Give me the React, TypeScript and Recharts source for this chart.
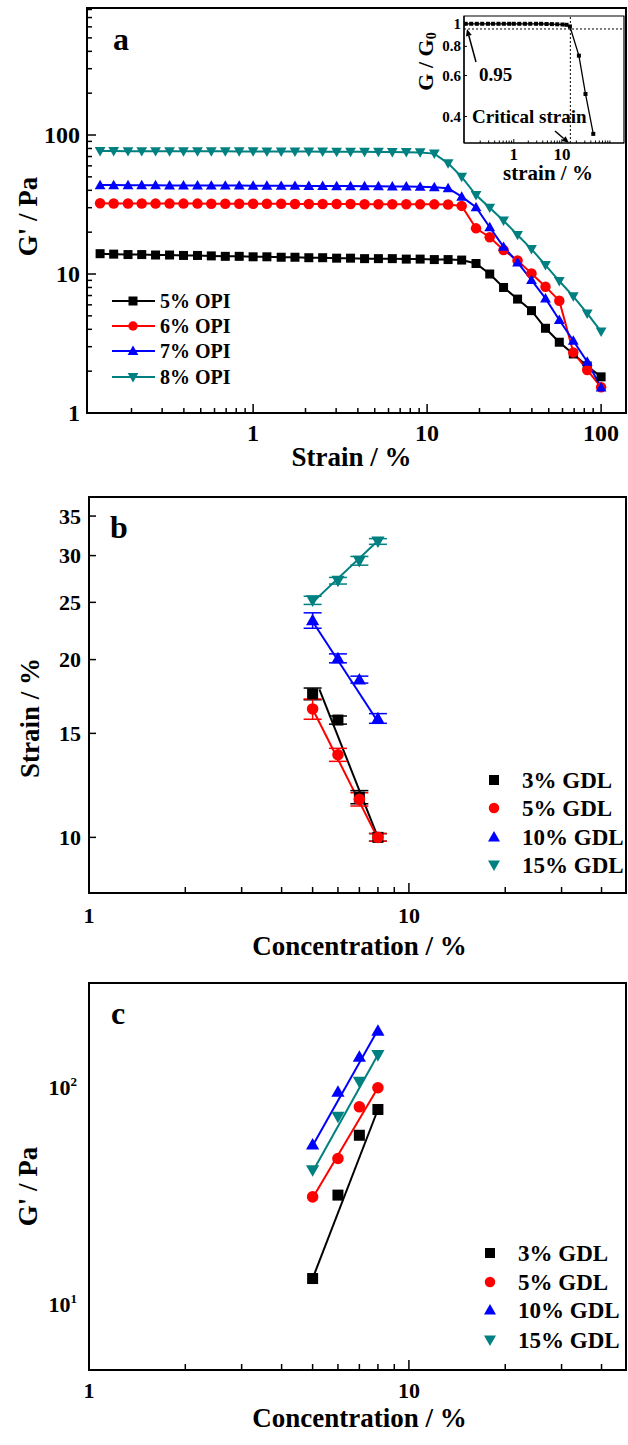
import React from 'react';
import {
  LineChart,
  ComposedChart,
  Line,
  Scatter,
  ErrorBar,
  XAxis,
  YAxis,
  ReferenceArea,
  ReferenceLine,
  Legend,
  Label,
} from 'recharts';

const FONT = '"Liberation Serif", "Times New Roman", Times, serif';

// ---------- panel a : strain sweep ----------
const strainA = [
  0.132, 0.158, 0.191, 0.229, 0.275, 0.331, 0.398, 0.479, 0.575, 0.692, 0.832, 1, 1.2,
  1.45, 1.74, 2.09, 2.51, 3.02, 3.63, 4.37, 5.25, 6.31, 7.59, 9.12, 11.0, 13.2, 15.8,
  19.1, 22.9, 27.5, 33.1, 39.8, 47.9, 57.5, 69.2, 83.2, 100,
];
const opi5 = [
  14.0, 13.9, 13.8, 13.8, 13.7, 13.7, 13.6, 13.6, 13.5, 13.4, 13.4, 13.3, 13.3, 13.2,
  13.2, 13.1, 13.1, 13.0, 13.0, 12.9, 12.9, 12.9, 12.8, 12.8, 12.7, 12.7, 12.6,
  11.9, 10.0, 8.0, 6.6, 5.45, 4.07, 3.23, 2.66, 2.18, 1.82,
];
const opi6 = [
  32.3, 32.2, 32.2, 32.2, 32.1, 32.1, 32.1, 32.1, 32.0, 32.0, 32.0, 32.0, 32.0, 32.0,
  31.9, 31.9, 31.9, 31.9, 31.9, 31.8, 31.8, 31.8, 31.8, 31.7, 31.7, 31.6, 30.9,
  21.3, 18.4, 14.9, 12.5, 10.1, 8.1, 6.43, 2.73, 2.04, 1.53,
];
const opi7 = [
  43.6, 43.6, 43.5, 43.5, 43.5, 43.4, 43.4, 43.4, 43.3, 43.3, 43.3, 43.2, 43.2, 43.1,
  43.1, 43.0, 43.0, 42.9, 42.9, 42.8, 42.8, 42.7, 42.6, 42.4, 42.1, 41.4, 36.0,
  30.2, 21.7, 15.7, 12.1, 9.05, 6.68, 4.67, 3.31, 2.34, 1.53,
];
const opi8 = [
  76.6, 76.6, 76.5, 76.5, 76.5, 76.4, 76.4, 76.4, 76.3, 76.3, 76.2, 76.2, 76.1, 76.1,
  76.0, 76.0, 75.9, 75.8, 75.8, 75.7, 75.6, 75.5, 75.3, 75.0, 73.5, 62.5, 50.0,
  37.0, 30.0, 24.2, 19.1, 15.1, 11.6, 8.9, 6.9, 5.2, 3.85,
];
const opiNames = ['5% OPI', '6% OPI', '7% OPI', '8% OPI'];

// inset : normalised modulus
const insetStrain = [
  0.1, 0.13, 0.17, 0.22, 0.29, 0.37, 0.48, 0.62, 0.8, 1.0, 1.3, 1.7, 2.2, 2.9, 3.7,
  4.8, 6.2, 8.0, 10.3, 12.5, 14.7, 22.6, 31, 45,
];
const insetRatio = [
  1, 1, 1, 1, 1, 1, 1, 1, 1, 1, 1, 1, 1, 1, 1, 0.998, 0.997, 0.995, 0.993, 0.99,
  0.974, 0.73, 0.5, 0.337,
];

// ---------- panels b, c ----------
const concentration = [5, 6, 7, 8];
const gdlNames = ['3% GDL', '5% GDL', '10% GDL', '15% GDL'];

const critStrain3 = [17.5, 15.8, 11.7, 10.0];
const critStrain5 = [16.5, 13.8, 11.6, 10.0];
const critStrain10 = [23.3, 20.1, 18.5, 15.9];
const critStrain15 = [25.2, 27.2, 29.4, 31.7];
const critErr3 = [0.4, 0.25, 0.3, 0.15];
const critErr5 = [0.65, 0.35, 0.3, 0.15];
const critErr10 = [0.7, 0.35, 0.25, 0.3];
const critErr15 = [0.4, 0.35, 0.5, 0.35];

// fitted lines (end points)
const fitConcB3 = [5.25, 8];
const fitConc = [5, 8];
const fitStrain3 = [17.8, 10.0];
const fitStrain5 = [16.5, 9.95];
const fitStrain10 = [23.2, 15.7];
const fitStrain15 = [25.0, 31.8];

const modulus3 = [13.2, 32.0, 60.4, 79.4];
const modulus5 = [31.4, 47.2, 81.7, 100];
const modulus10 = [54.7, 95.8, 139, 183];
const modulus15 = [41.7, 73.5, 106.6, 141.5];
const fitModulus3 = [13.2, 79.4];
const fitModulus5 = [31.0, 100];
const fitModulus10 = [54, 185];
const fitModulus15 = [41, 142];

// tick positions
const ticksAX = [0.2, 0.3, 0.4, 0.5, 0.6, 0.7, 0.8, 0.9, 1, 2, 3, 4, 5, 6, 7, 8, 9, 10, 20, 30, 40, 50, 60, 70, 80, 90, 100];
const ticksAY = [1, 2, 3, 4, 5, 6, 7, 8, 9, 10, 20, 30, 40, 50, 60, 70, 80, 90, 100, 200, 300, 400, 500, 600, 700, 800];
const ticksBX = [1, 2, 3, 4, 5, 6, 7, 8, 9, 10, 20, 30, 40];
const ticksBY = [10, 15, 20, 25, 30, 35];
const ticksCY = [10, 100];
const ticksInX = [0.2, 0.3, 0.4, 0.5, 0.6, 0.7, 0.8, 0.9, 1, 2, 3, 4, 5, 6, 7, 8, 9, 10, 20, 30, 40, 50, 60, 70, 80, 90, 100];
const ticksInY = [0.4, 0.6, 0.8, 1];

const COLORS = ['#000000', '#ff0000', '#0000ff', '#008080'];
type Kind = 'square' | 'circle' | 'up' | 'down';
const KINDS: Kind[] = ['square', 'circle', 'up', 'down'];

const txt = { fontFamily: FONT, fontWeight: 700, fill: '#000' };

function Marker({ kind, cx, cy, color, size }: { kind: Kind; cx?: number; cy?: number; color: string; size: number }) {
  if (cx == null || cy == null || isNaN(cx) || isNaN(cy)) return <g />;
  const h = size / 2;
  if (kind === 'square') return <rect x={cx - h} y={cy - h} width={size} height={size} fill={color} />;
  if (kind === 'circle') return <circle cx={cx} cy={cy} r={h * 1.05} fill={color} />;
  const t = h * 1.2;
  if (kind === 'up')
    return <polygon points={`${cx},${cy - t} ${cx + t},${cy + t * 0.75} ${cx - t},${cy + t * 0.75}`} fill={color} />;
  return <polygon points={`${cx},${cy + t} ${cx + t},${cy - t * 0.75} ${cx - t},${cy - t * 0.75}`} fill={color} />;
}

// inward ticks, labels only on majors
function logTick(o: {
  side: 'left' | 'bottom';
  majors: number[];
  fontSize: number;
  gap: number;
  majorLen: number;
  minorLen: number;
  sw?: number;
  fmt?: (v: number) => React.ReactNode;
}) {
  return (p: any) => {
    const v = Number(p.payload.value);
    const isMajor = o.majors.some((m) => Math.abs(m - v) < 1e-9);
    const len = isMajor ? o.majorLen : o.minorLen;
    const label = o.fmt ? o.fmt(v) : String(v);
    const sw = o.sw ?? 1.5;
    if (o.side === 'left') {
      return (
        <g>
          {len > 0 && <line x1={p.x} y1={p.y} x2={p.x + len} y2={p.y} stroke="#000" strokeWidth={sw} />}
          {isMajor && (
            <text x={p.x - o.gap} y={p.y} dy="0.34em" textAnchor="end" fontSize={o.fontSize} {...txt}>
              {label}
            </text>
          )}
        </g>
      );
    }
    return (
      <g>
        {len > 0 && <line x1={p.x} y1={p.y} x2={p.x} y2={p.y - len} stroke="#000" strokeWidth={sw} />}
        {isMajor && (
          <text x={p.x} y={p.y + o.gap} dy="0.34em" textAnchor="middle" fontSize={o.fontSize} {...txt}>
            {label}
          </text>
        )}
      </g>
    );
  };
}

function axisTitle(text: React.ReactNode, rotate: boolean, dx: number, dy: number, size = 27) {
  return (props: any) => {
    const vb = props.viewBox || {};
    const cx = rotate ? vb.x + vb.width + dx : vb.x + vb.width / 2 + dx;
    const cy = rotate ? vb.y + vb.height / 2 + dy : vb.y + dy;
    return (
      <text
        x={cx}
        y={cy}
        textAnchor="middle"
        dominantBaseline="central"
        fontSize={size}
        transform={rotate ? `rotate(-90 ${cx} ${cy})` : undefined}
        {...txt}
      >
        {text}
      </text>
    );
  };
}

function LegendBox({ names, rowY, markerX, textX, lineFrom, lineTo, fontSize, size, w, h }: any) {
  return (
    <svg width={w} height={h} style={{ display: 'block', overflow: 'visible' }}>
      {names.map((n: string, i: number) => (
        <g key={n}>
          {lineTo > lineFrom && (
            <line x1={lineFrom} x2={lineTo} y1={rowY[i]} y2={rowY[i]} stroke={COLORS[i]} strokeWidth={2} />
          )}
          <Marker kind={KINDS[i]} cx={markerX} cy={rowY[i]} color={COLORS[i]} size={size} />
          <text x={textX} y={rowY[i]} dy="0.34em" fontSize={fontSize} {...txt}>
            {n}
          </text>
        </g>
      ))}
    </svg>
  );
}

function Arrow({ x1, y1, x2, y2 }: { x1: number; y1: number; x2: number; y2: number }) {
  const a = Math.atan2(y2 - y1, x2 - x1);
  const L = 7;
  const W = 3;
  const bx = x2 - L * Math.cos(a);
  const by = y2 - L * Math.sin(a);
  const px = -Math.sin(a) * W;
  const py = Math.cos(a) * W;
  return (
    <g>
      <line x1={x1} y1={y1} x2={bx} y2={by} stroke="#000" strokeWidth={1.5} />
      <polygon points={`${x2},${y2} ${bx + px},${by + py} ${bx - px},${by - py}`} fill="#000" />
    </g>
  );
}

const axisLine = { stroke: '#000', strokeWidth: 2 };
const noTickLine = { tickLine: false, tickSize: 0, tickMargin: 0, interval: 0 as const, allowDataOverflow: true };

export default function App() {
  const rowsA = strainA.map((s, i) => ({ strain: s, s0: opi5[i], s1: opi6[i], s2: opi7[i], s3: opi8[i] }));
  const rowsInset = insetStrain.map((s, i) => ({ strain: s, ratio: insetRatio[i] }));

  const critVals = [critStrain3, critStrain5, critStrain10, critStrain15];
  const critErrs = [critErr3, critErr5, critErr10, critErr15];
  const pointsB = critVals.map((vals, k) => concentration.map((c, i) => ({ x: c, y: vals[i], e: critErrs[k][i] })));
  const fitsB = [
    { xs: fitConcB3, ys: fitStrain3 },
    { xs: fitConc, ys: fitStrain5 },
    { xs: fitConc, ys: fitStrain10 },
    { xs: fitConc, ys: fitStrain15 },
  ].map((f) => f.xs.map((x, i) => ({ x, y: f.ys[i] })));

  const modVals = [modulus3, modulus5, modulus10, modulus15];
  const pointsC = modVals.map((vals) => concentration.map((c, i) => ({ x: c, y: vals[i] })));
  const fitsC = [fitModulus3, fitModulus5, fitModulus10, fitModulus15].map((ys) =>
    fitConc.map((x, i) => ({ x, y: ys[i] }))
  );

  const domA = { x: [0.111, 139], y: [1, 820] };
  const domB = { x: [1, 47.7], y: [8.05, 37.7] };
  const domC = { x: [1, 47.7], y: [5, 304] };
  const domIn = { x: [0.092, 196], y: [0.308, 1.08] };

  return (
    <div style={{ position: 'absolute', left: 0, top: 0, width: 628, height: 1445, background: '#fff', overflow: 'hidden' }}>
      {/* panel a */}
      <div style={{ position: 'absolute', left: 0, top: 0 }}>
        <LineChart width={628} height={490} data={rowsA} margin={{ top: 8, right: 2, bottom: 76, left: 86 }}>
          <XAxis
            dataKey="strain"
            type="number"
            scale="log"
            domain={domA.x}
            ticks={ticksAX}
            height={1}
            axisLine={axisLine}
            {...noTickLine}
            tick={logTick({ side: 'bottom', majors: [1, 10, 100], fontSize: 24, gap: 20, majorLen: 9, minorLen: 5 })}
          >
            <Label content={axisTitle('Strain / %', false, -5, 44)} />
          </XAxis>
          <YAxis
            type="number"
            scale="log"
            domain={domA.y}
            ticks={ticksAY}
            width={1}
            axisLine={axisLine}
            {...noTickLine}
            tick={logTick({ side: 'left', majors: [1, 10, 100], fontSize: 24, gap: 7, majorLen: 9, minorLen: 5 })}
          >
            <Label content={axisTitle("G' / Pa", true, -59, 6)} />
          </YAxis>
          <ReferenceArea x1={domA.x[0]} x2={domA.x[1]} y1={domA.y[0]} y2={domA.y[1]} fill="none" stroke="#000" strokeWidth={2} ifOverflow="visible" />
          {opiNames.map((n, k) => (
            <Line
              key={n}
              name={n}
              dataKey={`s${k}`}
              type="linear"
              stroke={COLORS[k]}
              strokeWidth={2}
              isAnimationActive={false}
              dot={(p: any) => (
                <Marker key={`a${k}-${p.index}`} kind={KINDS[k]} cx={p.cx} cy={p.cy} color={COLORS[k]} size={k === 1 ? 10 : 9} />
              )}
            />
          ))}
          <Legend
            layout="vertical"
            align="center"
            verticalAlign="middle"
            wrapperStyle={{ position: 'absolute', left: 108, top: 288, width: 140, height: 104 }}
            content={() => (
              <LegendBox names={opiNames} rowY={[13, 38, 63, 89]} markerX={25} textX={52} lineFrom={4} lineTo={47} fontSize={20} size={9} w={140} h={104} />
            )}
          />
        </LineChart>
      </div>

      {/* inset */}
      <div style={{ position: 'absolute', left: 400, top: 0 }}>
        <LineChart width={228} height={190} data={rowsInset} margin={{ top: 16, right: 4, bottom: 46, left: 63 }}>
          <XAxis
            dataKey="strain"
            type="number"
            scale="log"
            domain={domIn.x}
            ticks={ticksInX}
            height={1}
            axisLine={{ stroke: '#000', strokeWidth: 1.2 }}
            {...noTickLine}
            tick={logTick({ side: 'bottom', majors: [1, 10], fontSize: 17, gap: 11, majorLen: 4, minorLen: 2.5, sw: 1 })}
          >
            <Label content={axisTitle('strain / %', false, 4, 30, 21)} />
          </XAxis>
          <YAxis
            type="number"
            scale="log"
            domain={domIn.y}
            ticks={ticksInY}
            width={1}
            axisLine={{ stroke: '#000', strokeWidth: 1.2 }}
            {...noTickLine}
            tick={logTick({ side: 'left', majors: ticksInY, fontSize: 15, gap: 3, majorLen: 3, minorLen: 0, sw: 1 })}
          >
            <Label
              content={axisTitle(
                <>
                  G / G
                  <tspan dy={6} fontSize={14}>
                    0
                  </tspan>
                </>,
                true,
                -39,
                -18,
                22
              )}
            />
          </YAxis>
          <ReferenceArea x1={domIn.x[0]} x2={domIn.x[1]} y1={domIn.y[0]} y2={domIn.y[1]} fill="none" stroke="#000" strokeWidth={1.2} ifOverflow="visible" />
          <ReferenceLine y={0.95} stroke="#000" strokeWidth={1} strokeDasharray="2 2" />
          <ReferenceLine x={15} stroke="#000" strokeWidth={1} strokeDasharray="2 2" />
          <Line
            dataKey="ratio"
            type="linear"
            stroke="#000"
            strokeWidth={1.3}
            isAnimationActive={false}
            dot={(p: any) => <Marker key={`in-${p.index}`} kind="square" cx={p.cx} cy={p.cy} color="#000" size={4} />}
          />
        </LineChart>
      </div>

      {/* panel b */}
      <div style={{ position: 'absolute', left: 0, top: 470 }}>
        <ComposedChart width={628} height={490} margin={{ top: 27, right: 2, bottom: 66, left: 88 }}>
          <XAxis
            dataKey="x"
            type="number"
            scale="log"
            domain={domB.x}
            ticks={ticksBX}
            height={1}
            axisLine={axisLine}
            {...noTickLine}
            tick={logTick({ side: 'bottom', majors: [1, 10], fontSize: 22, gap: 23, majorLen: 10, minorLen: 6 })}
          >
            <Label content={axisTitle('Concentration / %', false, 2, 53)} />
          </XAxis>
          <YAxis
            dataKey="y"
            type="number"
            scale="log"
            domain={domB.y}
            ticks={ticksBY}
            width={1}
            axisLine={axisLine}
            {...noTickLine}
            tick={logTick({ side: 'left', majors: ticksBY, fontSize: 22, gap: 8, majorLen: 7, minorLen: 0 })}
          >
            <Label content={axisTitle('Strain / %', true, -59, 23)} />
          </YAxis>
          <ReferenceArea x1={domB.x[0]} x2={domB.x[1]} y1={domB.y[0]} y2={domB.y[1]} fill="none" stroke="#000" strokeWidth={2} ifOverflow="visible" />
          {fitsB.map((d, k) => (
            <Line key={`fb${k}`} data={d} dataKey="y" type="linear" stroke={COLORS[k]} strokeWidth={2} dot={false} legendType="none" isAnimationActive={false} />
          ))}
          {pointsB.map((d, k) => (
            <Scatter
              key={gdlNames[k]}
              name={gdlNames[k]}
              data={d}
              fill={COLORS[k]}
              isAnimationActive={false}
              shape={(p: any) => <Marker kind={KINDS[k]} cx={p.cx} cy={p.cy} color={COLORS[k]} size={11} />}
            >
              <ErrorBar dataKey="e" direction="y" width={9} stroke={COLORS[k]} strokeWidth={1.5} isAnimationActive={false} />
            </Scatter>
          ))}
          <Legend
            layout="vertical"
            align="center"
            verticalAlign="middle"
            wrapperStyle={{ position: 'absolute', left: 480, top: 295, width: 148, height: 115 }}
            content={() => (
              <LegendBox names={gdlNames} rowY={[15, 43, 72, 100]} markerX={14} textX={42} lineFrom={0} lineTo={0} fontSize={23} size={10} w={148} h={115} />
            )}
          />
        </ComposedChart>
      </div>

      {/* panel c */}
      <div style={{ position: 'absolute', left: 0, top: 960 }}>
        <ComposedChart width={628} height={485} margin={{ top: 23, right: 2, bottom: 74, left: 88 }}>
          <XAxis
            dataKey="x"
            type="number"
            scale="log"
            domain={domC.x}
            ticks={ticksBX}
            height={1}
            axisLine={axisLine}
            {...noTickLine}
            tick={logTick({ side: 'bottom', majors: [1, 10], fontSize: 22, gap: 21, majorLen: 10, minorLen: 6 })}
          >
            <Label content={axisTitle('Concentration / %', false, 2, 48)} />
          </XAxis>
          <YAxis
            dataKey="y"
            type="number"
            scale="log"
            domain={domC.y}
            ticks={ticksCY}
            width={1}
            axisLine={axisLine}
            {...noTickLine}
            tick={logTick({
              side: 'left',
              majors: ticksCY,
              fontSize: 22,
              gap: 12,
              majorLen: 0,
              minorLen: 0,
              fmt: (v) => (
                <>
                  10
                  <tspan dy={-9} fontSize={13}>
                    {Math.round(Math.log10(v))}
                  </tspan>
                </>
              ),
            })}
          >
            <Label content={axisTitle("G' / Pa", true, -61, 10)} />
          </YAxis>
          <ReferenceArea x1={domC.x[0]} x2={domC.x[1]} y1={domC.y[0]} y2={domC.y[1]} fill="none" stroke="#000" strokeWidth={2} ifOverflow="visible" />
          {fitsC.map((d, k) => (
            <Line key={`fc${k}`} data={d} dataKey="y" type="linear" stroke={COLORS[k]} strokeWidth={2} dot={false} legendType="none" isAnimationActive={false} />
          ))}
          {pointsC.map((d, k) => (
            <Scatter
              key={gdlNames[k]}
              name={gdlNames[k]}
              data={d}
              fill={COLORS[k]}
              isAnimationActive={false}
              shape={(p: any) => <Marker kind={KINDS[k]} cx={p.cx} cy={p.cy} color={COLORS[k]} size={11} />}
            />
          ))}
          <Legend
            layout="vertical"
            align="center"
            verticalAlign="middle"
            wrapperStyle={{ position: 'absolute', left: 476, top: 280, width: 152, height: 115 }}
            content={() => (
              <LegendBox names={gdlNames} rowY={[13, 42, 70, 100]} markerX={14} textX={42} lineFrom={0} lineTo={0} fontSize={23} size={10} w={152} h={115} />
            )}
          />
        </ComposedChart>
      </div>

      {/* panel letters and inset annotations */}
      <svg width={628} height={1445} style={{ position: 'absolute', left: 0, top: 0, pointerEvents: 'none' }}>
        <text x={113} y={50} fontSize={32} {...txt}>a</text>
        <text x={110} y={538} fontSize={32} {...txt}>b</text>
        <text x={111} y={1024} fontSize={32} {...txt}>c</text>
        <text x={479} y={75} dy="0.34em" fontSize={19} {...txt}>0.95</text>
        <text x={472} y={117} dy="0.34em" fontSize={19} {...txt}>Critical strain</text>
        <Arrow x1={476} y1={62} x2={467} y2={29} />
        <Arrow x1={555} y1={131} x2={569} y2={143} />
      </svg>
    </div>
  );
}
